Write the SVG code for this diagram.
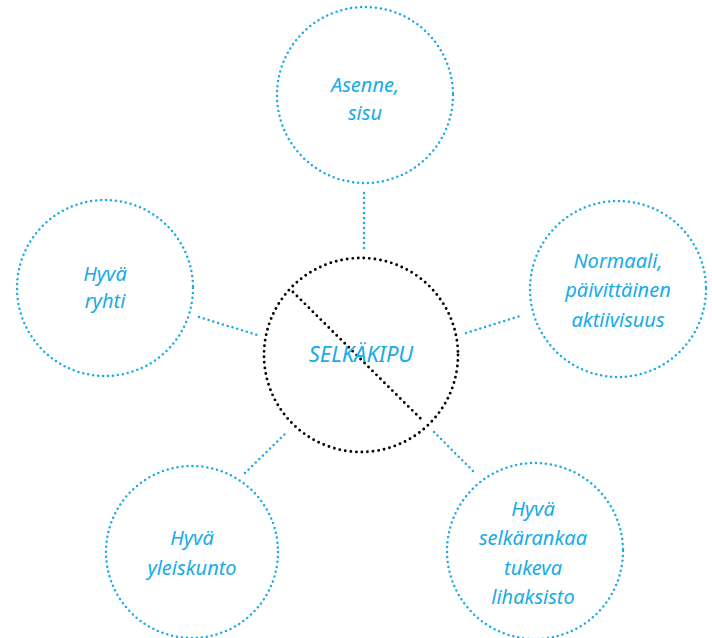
<svg xmlns="http://www.w3.org/2000/svg" width="712" height="638" viewBox="0 0 712 638">
<style>
.c{fill:none;stroke:#19ABE6;stroke-width:2.5;stroke-linecap:round;stroke-dasharray:0 5}
.k{fill:none;stroke:#000;stroke-width:2.9;stroke-linecap:round;stroke-dasharray:0 5.6}
.t{font-family:"Noto Sans","Open Sans",sans-serif;font-style:italic;font-size:20px;fill:#19ABE6;text-anchor:middle}
.m{font-size:22px}
</style>
<rect width="712" height="638" fill="#fff"/>
<g id="connectors">
<line class="c" x1="364" y1="193" x2="364" y2="250"/>
<line class="c" x1="199" y1="317" x2="257" y2="335"/>
<line class="c" x1="466" y1="333" x2="523" y2="315"/>
<line class="c" x1="245" y1="473" x2="287" y2="432"/>
<line class="c" x1="434" y1="432" x2="474" y2="472"/>
</g>
<g id="center">
<circle class="k" cx="361" cy="355" r="97"/>
<line class="k" x1="293" y1="292" x2="424" y2="422"/>
<text class="t m" x="361" y="362">SELKÄKIPU</text>
</g>
<g id="top">
<circle class="c" cx="365" cy="95" r="88"/>
<text class="t" x="365" y="92">Asenne,</text>
<text class="t" x="365" y="120">sisu</text>
</g>
<g id="left">
<circle class="c" cx="105" cy="288" r="88"/>
<text class="t" x="105" y="281">Hyvä</text>
<text class="t" x="105" y="308">ryhti</text>
</g>
<g id="right">
<circle class="c" cx="618" cy="289" r="88"/>
<text class="t" x="618" y="268">Normaali,</text>
<text class="t" x="618" y="297">päivittäinen</text>
<text class="t" x="618" y="327">aktiivisuus</text>
</g>
<g id="bottomleft">
<circle class="c" cx="192" cy="552" r="86"/>
<text class="t" x="192" y="545">Hyvä</text>
<text class="t" x="192" y="575">yleiskunto</text>
</g>
<g id="bottomright">
<circle class="c" cx="535" cy="551" r="88"/>
<text class="t" x="533" y="516">Hyvä</text>
<text class="t" x="533" y="545">selkärankaa</text>
<text class="t" x="533" y="575">tukeva</text>
<text class="t" x="533" y="604">lihaksisto</text>
</g>
</svg>
